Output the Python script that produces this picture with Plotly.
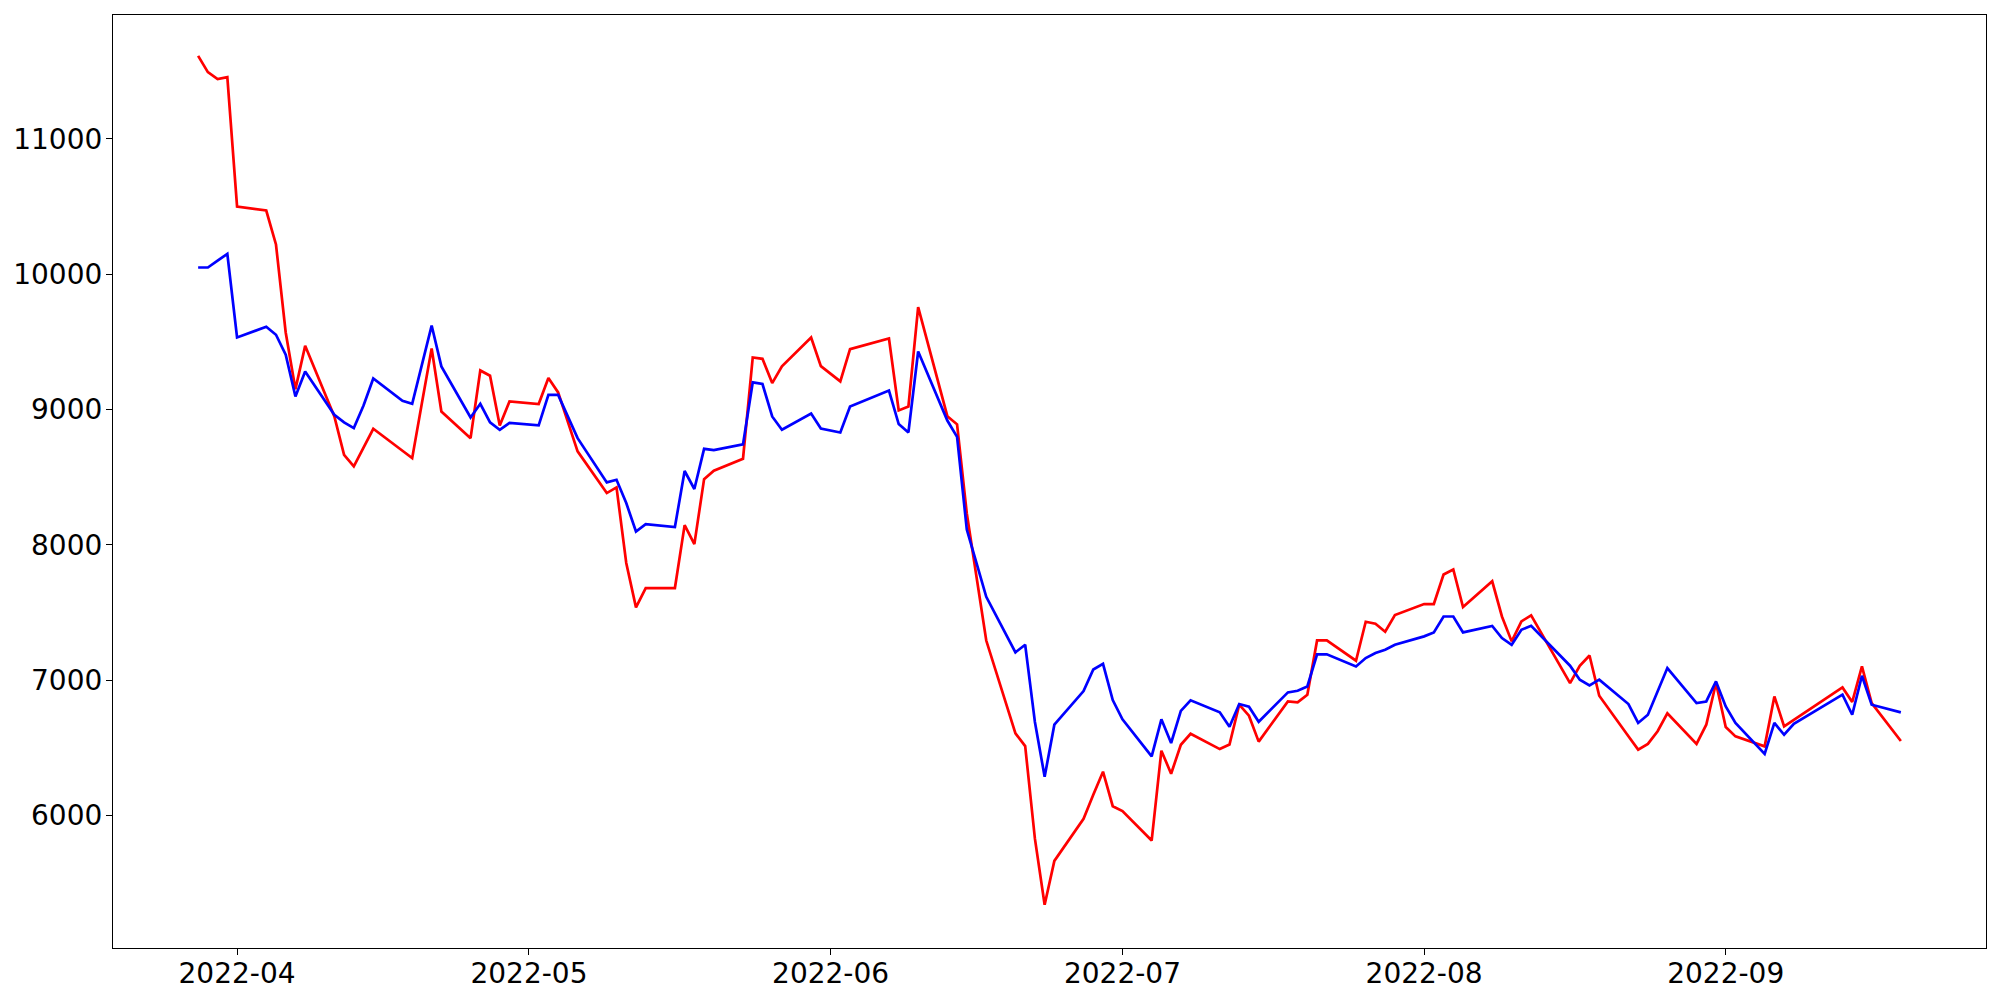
import plotly.graph_objects as go

dates = [
    "2022-03-28", "2022-03-29", "2022-03-30", "2022-03-31", "2022-04-01",
    "2022-04-04", "2022-04-05", "2022-04-06", "2022-04-07", "2022-04-08",
    "2022-04-11", "2022-04-12", "2022-04-13", "2022-04-14", "2022-04-15",
    "2022-04-18", "2022-04-19", "2022-04-20", "2022-04-21", "2022-04-22",
    "2022-04-25", "2022-04-26", "2022-04-27", "2022-04-28", "2022-04-29",
    "2022-05-02", "2022-05-03", "2022-05-04", "2022-05-06",
    "2022-05-09", "2022-05-10", "2022-05-11", "2022-05-12", "2022-05-13",
    "2022-05-16", "2022-05-17", "2022-05-18", "2022-05-19", "2022-05-20",
    "2022-05-23", "2022-05-24", "2022-05-25", "2022-05-26", "2022-05-27",
    "2022-05-30", "2022-05-31", "2022-06-02", "2022-06-03",
    "2022-06-07", "2022-06-08", "2022-06-09", "2022-06-10",
    "2022-06-13", "2022-06-14", "2022-06-15", "2022-06-16", "2022-06-17",
    "2022-06-20", "2022-06-21", "2022-06-22", "2022-06-23", "2022-06-24",
    "2022-06-27", "2022-06-28", "2022-06-29", "2022-06-30", "2022-07-01",
    "2022-07-04", "2022-07-05", "2022-07-06", "2022-07-07", "2022-07-08",
    "2022-07-11", "2022-07-12", "2022-07-13", "2022-07-14", "2022-07-15",
    "2022-07-18", "2022-07-19", "2022-07-20", "2022-07-21", "2022-07-22",
    "2022-07-25", "2022-07-26", "2022-07-27", "2022-07-28", "2022-07-29",
    "2022-08-01", "2022-08-02", "2022-08-03", "2022-08-04", "2022-08-05",
    "2022-08-08", "2022-08-09", "2022-08-10", "2022-08-11", "2022-08-12",
    "2022-08-16", "2022-08-17", "2022-08-18", "2022-08-19",
    "2022-08-22", "2022-08-23", "2022-08-24", "2022-08-25", "2022-08-26",
    "2022-08-29", "2022-08-30", "2022-08-31", "2022-09-01", "2022-09-02",
    "2022-09-05", "2022-09-06", "2022-09-07", "2022-09-08",
    "2022-09-13", "2022-09-14", "2022-09-15", "2022-09-16",
    "2022-09-19",
]

red_values = [
    11613, 11493, 11441, 11456, 10500,
    10470, 10219, 9569, 9150, 9470,
    8948, 8665, 8579, 8719, 8857,
    8695, 8640, 9047, 9450, 8985,
    8788, 9288, 9249, 8882, 9059,
    9040, 9232, 9126, 8690,
    8382, 8424, 7865, 7537, 7680,
    7680, 8145, 8005, 8485, 8547,
    8636, 9384, 9374, 9195, 9318,
    9532, 9320, 9207, 9446,
    9524, 8993, 9022, 9756,
    8950, 8890, 8231, 7762, 7292,
    6606, 6512, 5828, 5340, 5664,
    5975, 6153, 6323, 6068, 6032,
    5814, 6478, 6308, 6522, 6603,
    6490, 6524, 6818, 6737, 6545,
    6842, 6835, 6892, 7293, 7293,
    7143, 7431, 7416, 7357, 7481,
    7562, 7562, 7780, 7817, 7540,
    7730, 7470, 7286, 7434, 7478,
    6978, 7106, 7182, 6884,
    6585, 6486, 6528, 6622, 6754,
    6528, 6670, 6978, 6653, 6584,
    6510, 6879, 6658, 6707,
    6946, 6838, 7101, 6830,
    6550,
]

blue_values = [
    10049, 10049, 10099, 10150, 9532,
    9611, 9552, 9404, 9096, 9281,
    8961, 8904, 8862, 9029, 9229,
    9064, 9042, 9330, 9620, 9318,
    8941, 9042, 8904, 8850, 8901,
    8882, 9108, 9108, 8788,
    8461, 8480, 8308, 8098, 8153,
    8131, 8545, 8412, 8709, 8700,
    8742, 9200, 9188, 8948, 8850,
    8970, 8859, 8830, 9022,
    9140, 8892, 8830, 9428,
    8918, 8797, 8112, 7864, 7615,
    7205, 7261, 6690, 6286, 6670,
    6919, 7078, 7120, 6852, 6710,
    6436, 6710, 6535, 6772, 6851,
    6762, 6655, 6823, 6803, 6692,
    6909, 6921, 6953, 7190, 7190,
    7101, 7163, 7200, 7224, 7261,
    7323, 7352, 7470, 7470, 7352,
    7400, 7311, 7261, 7372, 7401,
    7106, 7003, 6961, 7003,
    6823, 6683, 6744, 6916, 7089,
    6830, 6842, 6990, 6805, 6683,
    6454, 6683, 6596, 6677,
    6892, 6744, 7032, 6818,
    6761,
]

x_tick_vals = ["2022-04-01", "2022-05-01", "2022-06-01", "2022-07-01", "2022-08-01", "2022-09-01"]
x_tick_text = ["2022-04", "2022-05", "2022-06", "2022-07", "2022-08", "2022-09"]
y_tick_vals = [6000, 7000, 8000, 9000, 10000, 11000]

fig = go.Figure()
fig.add_trace(go.Scatter(x=dates, y=red_values, mode="lines",
                         line=dict(color="#ff0000", width=2.7), showlegend=False))
fig.add_trace(go.Scatter(x=dates, y=blue_values, mode="lines",
                         line=dict(color="#0000ff", width=2.7), showlegend=False))

axis_common = dict(showgrid=False, zeroline=False, showline=True, linecolor="black",
                   linewidth=1.2, mirror=True, ticks="outside", ticklen=6, tickwidth=1.2,
                   tickcolor="black", automargin=False,
                   tickfont=dict(family="DejaVu Sans", size=28, color="black"))

# page body has an 8px default margin, so the figure is offset by 8px
fig.update_layout(
    width=1992, height=992,
    margin=dict(l=105, r=14, t=7, b=52),
    paper_bgcolor="white", plot_bgcolor="white",
    xaxis=dict(type="date", range=["2022-03-19 06:00", "2022-09-27 18:00"],
               tickvals=x_tick_vals, ticktext=x_tick_text, ticklabelstandoff=-6,
               **axis_common),
    yaxis=dict(range=[5020, 11915], tickvals=y_tick_vals,
               ticktext=[str(v) for v in y_tick_vals], ticklabelstandoff=-2,
               **axis_common),
)

fig.write_html("out.html")
